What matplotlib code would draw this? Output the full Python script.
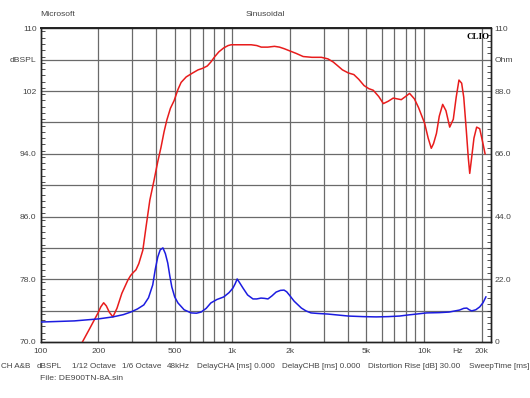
import numpy as np
import matplotlib.pyplot as plt
from matplotlib.ticker import FixedLocator, MultipleLocator, NullFormatter

# SPL response (left axis, dBSPL)
spl_freq = [165, 180, 199, 206, 213, 220, 228, 238, 250, 265, 285, 295, 305, 314, 325,
            341, 355, 371, 390, 408, 424, 440, 455, 475, 497, 520, 540, 574, 620, 662,
            700, 740, 772, 810, 850, 901, 950, 985, 1050, 1150, 1253, 1340, 1415, 1530,
            1658, 1760, 1863, 2000, 2150, 2340, 2600, 2912, 3150, 3358, 3550, 3750, 4030,
            4300, 4560, 4860, 5150, 5430, 5800, 6130, 6500, 6900, 7250, 7600, 8000, 8400,
            8900, 9350, 10060, 10500, 10900, 11200, 11600, 12000, 12500, 13000, 13600,
            14200, 14700, 15200, 15700, 16100, 16600, 17000, 17300, 17700, 18200, 18800,
            19500, 20200, 20800]
spl_db = [70.0, 71.7, 73.7, 74.5, 75.0, 74.6, 73.8, 73.2, 74.3, 76.2, 77.9, 78.5, 78.9, 79.2,
          80.0, 81.7, 84.8, 88.1, 90.6, 93.0, 94.8, 96.8, 98.3, 99.8, 100.8, 102.2, 103.1,
          103.8, 104.3, 104.7, 104.9, 105.2, 105.7, 106.4, 107.0, 107.5, 107.8, 107.9,
          107.9, 107.9, 107.9, 107.8, 107.6, 107.6, 107.7, 107.6, 107.4, 107.1, 106.8,
          106.4, 106.3, 106.3, 106.1, 105.7, 105.2, 104.7, 104.3, 104.1, 103.5, 102.7,
          102.3, 102.1, 101.3, 100.4, 100.7, 101.1, 101.0, 100.9, 101.3, 101.7, 101.0,
          99.9, 97.9, 96.0, 94.7, 95.3, 96.6, 98.8, 100.3, 99.5, 97.4, 98.4, 101.2,
          103.4, 103.0, 101.2, 97.0, 93.5, 91.5, 93.5, 96.0, 97.4, 97.2, 95.5, 94.0]

# impedance (right axis, Ohm)
imp_freq = [100, 150, 200, 238, 270, 295, 320, 345, 365, 384, 396, 408, 420, 434, 447,
            460, 472, 483, 500, 520, 560, 609, 650, 687, 730, 772, 830, 901, 960, 1006,
            1035, 1059, 1095, 1136, 1200, 1280, 1340, 1410, 1470, 1533, 1610, 1690,
            1780, 1860, 1920, 1980, 2100, 2290, 2420, 2570, 2800, 3150, 3500, 4030,
            4800, 5630, 6500, 7450, 8300, 9130, 10300, 12000, 13500, 15300, 16100,
            16700, 17200, 17700, 18600, 19500, 20300, 21000]
imp_ohm = [7.0, 7.4, 8.1, 8.8, 9.6, 10.5, 11.6, 13.0, 15.5, 20.0, 25.5, 29.8, 32.3, 33.0,
           31.0, 27.7, 23.0, 19.3, 15.8, 13.7, 11.3, 10.2, 10.1, 10.5, 11.8, 13.7, 14.9,
           15.8, 17.3, 18.9, 20.5, 22.1, 20.6, 18.9, 16.5, 15.1, 15.1, 15.4, 15.3, 15.1,
           16.2, 17.5, 18.1, 18.2, 17.6, 16.5, 14.3, 11.9, 10.9, 10.2, 10.0, 9.8, 9.5,
           9.1, 8.9, 8.8, 8.9, 9.1, 9.5, 9.8, 10.2, 10.3, 10.5, 11.2, 11.8,
           11.9, 11.3, 10.9, 11.3, 12.3, 13.8, 15.8]

x_ticks = [100, 200, 500, 1000, 2000, 5000, 10000, 15000, 20000]
x_labels = ['100', '200', '500', '1k', '2k', '5k', '10k', 'Hz', '20k']
x_grid = list(range(200, 1000, 100)) + list(range(1000, 10000, 1000)) + [10000, 20000]
left_ticks = [70, 78, 86, 94, 102, 106, 110]
left_labels = ['70.0', '78.0', '86.0', '94.0', '102', 'dBSPL', '110']
right_ticks = [0, 22, 44, 66, 88, 99, 110]
right_labels = ['0', '22.0', '44.0', '66.0', '88.0', 'Ohm', '110']

info = [(1, 'CH A&B'), (37, 'dBSPL'), (72, '1/12 Octave'), (122, '1/6 Octave'),
        (167, '48kHz'), (197, 'DelayCHA [ms] 0.000'), (282, 'DelayCHB [ms] 0.000'),
        (368, 'Distortion Rise [dB] 30.00'), (469, 'SweepTime [ms]')]

plt.rcParams['font.family'] = ['Liberation Sans', 'DejaVu Sans']
fs = 6.1
fs_info = 5.9
txt = '#444444'
W, H = 530, 398

fig = plt.figure(figsize=(5.3, 3.98), dpi=100)
ax = fig.add_axes([40.7 / W, 1 - 342 / H, (490.5 - 40.7) / W, (342 - 28.3) / H])
ax2 = ax.twinx()

ax.set_xscale('log')
ax.set_xlim(100, 22200)
ax.set_ylim(70, 110)
ax2.set_ylim(0, 110)

# grid
for f in x_grid:
    ax.axvline(f, color='#6a6a6a', lw=0.9, zorder=1)
for v in np.arange(74, 110, 4):
    ax.axhline(v, color='#6a6a6a', lw=0.9, zorder=1)

ax.plot(spl_freq, spl_db, color='#e81c1c', lw=1.1, zorder=3)
ax2.plot(imp_freq, imp_ohm, color='#1c1ce0', lw=1.1, zorder=3)

ax.xaxis.set_major_locator(FixedLocator(x_ticks))
ax.xaxis.set_minor_locator(FixedLocator([]))
ax.set_xticklabels(x_labels)
ax.xaxis.set_minor_formatter(NullFormatter())
ax.tick_params(axis='x', length=0, labelsize=fs, labelcolor=txt, pad=4)

ax.yaxis.set_major_locator(FixedLocator(left_ticks))
ax.set_yticklabels(left_labels)
ax.yaxis.set_minor_locator(MultipleLocator(0.8))
ax.tick_params(axis='y', which='major', length=0, labelsize=fs, labelcolor=txt, pad=3)
ax.tick_params(axis='y', which='minor', direction='in', length=3, width=0.6, color='#333333')

ax2.yaxis.set_major_locator(FixedLocator(right_ticks))
ax2.set_yticklabels(right_labels)
ax2.yaxis.set_minor_locator(MultipleLocator(2.2))
ax2.tick_params(axis='y', which='major', length=0, labelsize=fs, labelcolor=txt, pad=3)
ax2.tick_params(axis='y', which='minor', direction='in', length=3, width=0.6, color='#333333')

for a in (ax, ax2):
    for s in a.spines.values():
        s.set_color('#222222')
        s.set_linewidth(1.0)
ax.spines['top'].set_linewidth(1.4)

ax.text(0.997, 0.985, 'CLIO', transform=ax.transAxes, ha='right', va='top',
        fontsize=6.5, fontweight='bold', family='Liberation Serif', color='black', zorder=5)

fig.text(40 / W, 1 - 14 / H, 'Microsoft', fontsize=fs, color=txt, va='center')
fig.text(246 / W, 1 - 14 / H, 'Sinusoidal', fontsize=fs, color=txt, va='center')
for xp, s in info:
    fig.text(xp / W, 1 - 366 / H, s, fontsize=fs_info, color=txt, va='center')
fig.text(40 / W, 1 - 379 / H, 'File: DE900TN-8A.sin', fontsize=fs, color=txt, va='center')

fig.savefig('out.png', dpi=100)
